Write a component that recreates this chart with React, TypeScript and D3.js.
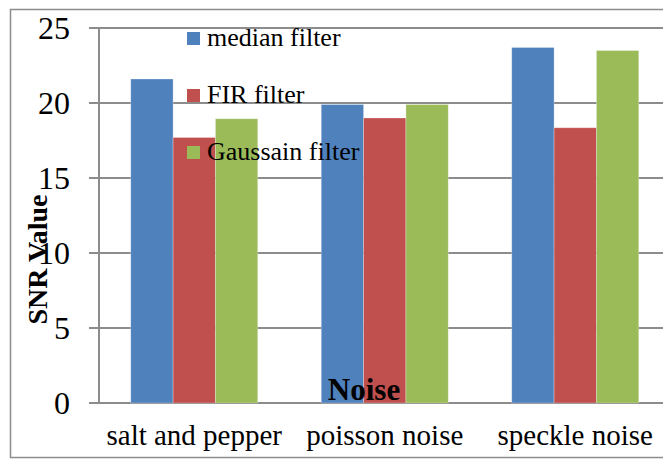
import React from "react";
import * as d3 from "d3";

const categories = ["salt and pepper", "poisson noise", "speckle noise"];
const seriesNames = ["median filter", "FIR filter", "Gaussain filter"];
const medianValues = [21.6, 19.9, 23.7];
const firValues = [17.7, 19.0, 18.35];
const gaussianValues = [18.95, 19.9, 23.5];
const yTicks = [0, 5, 10, 15, 20, 25];
const colors = ["#4F81BD", "#C0504D", "#9BBB59"];

const W = 663;
const H = 459;
const FONT = "serif";

export default function App() {
  const series = [medianValues, firValues, gaussianValues];
  const x0 = d3.scaleBand<string>().domain(categories).range([99, 99 + 3 * 190.5]).paddingInner(0).paddingOuter(0);
  const x1 = d3.scaleBand<string>().domain(seriesNames).range([0, x0.bandwidth()]).paddingInner(0).paddingOuter(0.75);
  const y = d3.scaleLinear().domain([0, 25]).range([403, 28]);
  const grid = "#8c8c8c";
  const reg = (size: number): React.CSSProperties => ({ fontFamily: FONT, fontSize: size });
  const bold = (size: number): React.CSSProperties => ({ fontFamily: FONT, fontSize: size, fontWeight: 700 });

  return (
    <div style={{ position: "fixed", left: 0, top: 0 }}>
      <svg width={W} height={H} style={{ display: "block", background: "#fff" }}>
        <rect x={10.5} y={9.5} width={W + 10} height={448} fill="none" stroke={grid} strokeWidth={1.5} />
        {yTicks.map((t) => (
          <line key={"g" + t} x1={89} x2={W} y1={y(t)} y2={y(t)} stroke={grid} strokeWidth={2} />
        ))}
        <line x1={99} x2={99} y1={y(25)} y2={y(0)} stroke={grid} strokeWidth={2} />
        {categories.map((c, ci) =>
          seriesNames.map((s, si) => {
            const v = series[si][ci];
            const bx = (x0(c) as number) + (x1(s) as number);
            return (
              <rect
                key={c + s}
                x={bx}
                y={y(v)}
                width={x1.bandwidth()}
                height={y(0) - y(v)}
                fill={colors[si]}
                stroke="rgba(255,255,255,0.35)"
                strokeWidth={0.8}
              />
            );
          })
        )}
        {yTicks.map((t) => (
          <text key={"t" + t} x={70} y={y(t) + 11} textAnchor="end" style={reg(32)} fill="#000">
            {t}
          </text>
        ))}
        {categories.map((c) => (
          <text
            key={"x" + c}
            x={(x0(c) as number) + x0.bandwidth() / 2}
            y={445}
            textAnchor="middle"
            style={reg(29)}
            fill="#000"
          >
            {c}
          </text>
        ))}
        <text x={364} y={400} textAnchor="middle" style={bold(31)} fill="#000">
          Noise
        </text>
        <text transform={`translate(47,259.5) rotate(-90)`} textAnchor="middle" style={bold(28)} fill="#000">
          SNR Value
        </text>
        {seriesNames.map((s, i) => (
          <g key={"l" + s} transform={`translate(187,${32 + i * 57})`}>
            <rect x={0} y={0} width={13} height={13} fill={colors[i]} />
            <text x={20} y={14} style={reg(26)} fill="#000">
              {s}
            </text>
          </g>
        ))}
      </svg>
    </div>
  );
}
